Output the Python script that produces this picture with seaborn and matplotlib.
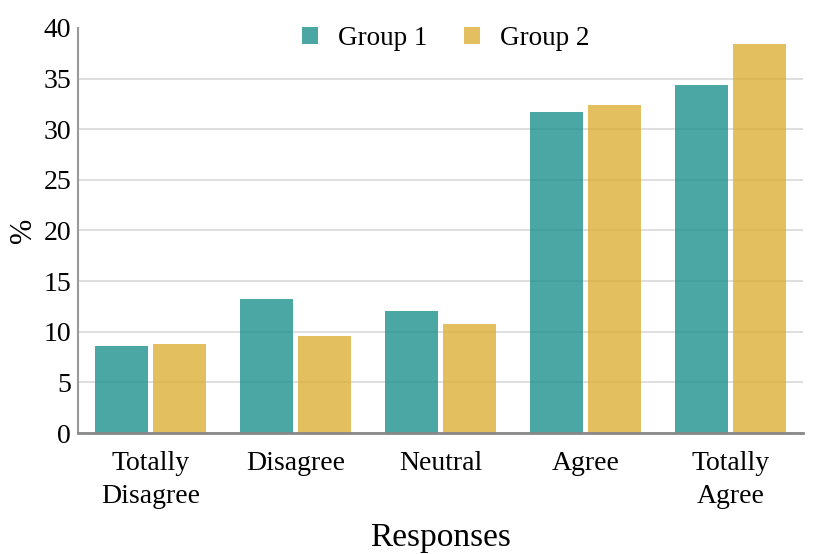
import pandas as pd
import matplotlib
matplotlib.use("Agg")
import matplotlib.pyplot as plt
import seaborn as sns

# Survey responses (%)
responses = ["Totally\nDisagree", "Disagree", "Neutral", "Agree", "Totally\nAgree"]
group1 = [8.6, 13.2, 12.05, 31.7, 34.4]
group2 = [8.8, 9.6, 10.8, 32.4, 38.45]
groups = ["Group 1", "Group 2"]

df = pd.DataFrame({
    "Responses": responses * 2,
    "Value": group1 + group2,
    "Group": [groups[0]] * len(responses) + [groups[1]] * len(responses),
})

sns.set_style("white")
plt.rcParams["font.family"] = ["Liberation Serif", "DejaVu Serif"]
plt.rcParams["text.color"] = "black"
plt.rcParams["axes.labelcolor"] = "black"
plt.rcParams["xtick.color"] = "black"
plt.rcParams["ytick.color"] = "black"

fig, ax = plt.subplots(figsize=(8.3, 5.54), dpi=100)
fig.subplots_adjust(left=0.094, right=0.9675, top=0.9495, bottom=0.2184)

sns.barplot(data=df, x="Responses", y="Value", hue="Group",
            palette=["#1d918e", "#dcaf37"], alpha=0.8, saturation=1,
            width=0.8, gap=0.1, edgecolor="none", ax=ax)

ax.set_xlim(-0.5, 4.5)
ax.set_ylim(0, 40)
ax.set_yticks(range(0, 41, 5))
ax.set_xticks(range(len(responses)), responses, linespacing=1.4)
ax.yaxis.grid(True, color="#d9d9d9", linewidth=1.2)
ax.set_axisbelow(True)
ax.get_ygridlines()[-1].set_visible(False)

for s in ["top", "right"]:
    ax.spines[s].set_visible(False)
ax.spines["left"].set_color("#999999")
ax.spines["left"].set_linewidth(1.5)
ax.spines["bottom"].set_color("#888888")
ax.spines["bottom"].set_linewidth(2)

ax.tick_params(axis="both", length=0, labelsize=20)
ax.tick_params(axis="x", pad=13)
ax.tick_params(axis="y", pad=5)

ax.set_xlabel("Responses", fontsize=24, labelpad=10)
ax.set_ylabel("%", fontsize=22, labelpad=4)

ax.legend(loc="upper center", ncol=2, frameon=False, fontsize=19.5,
          bbox_to_anchor=(0.507, 1.065), handlelength=0.6, handleheight=0.6,
          columnspacing=1.35, handletextpad=0.72)

plt.savefig("out.png", dpi=100)
